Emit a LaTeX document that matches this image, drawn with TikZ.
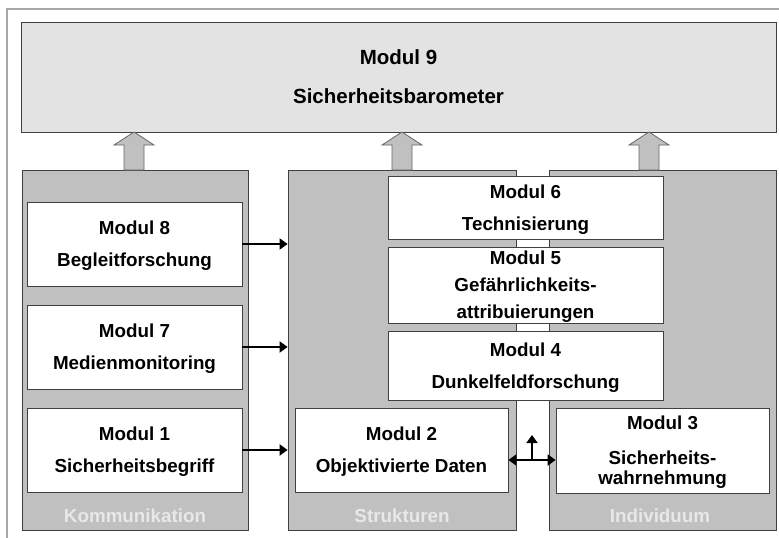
\documentclass[tikz,border=0pt]{standalone}
\usepackage{fontspec}
\setmainfont{Liberation Sans}
\usetikzlibrary{arrows.meta,positioning,calc}
\definecolor{colgray}{HTML}{C0C0C0}
\definecolor{topgray}{HTML}{E3E3E3}
\definecolor{edgegray}{HTML}{404040}
\definecolor{framegray}{HTML}{A8A8A8}
\definecolor{labgray}{HTML}{E8E8E8}
\tikzset{
  modbox/.style={draw=edgegray,fill=white,line width=0.8pt,align=center,inner sep=0pt,
    text depth=-6pt,font=\bfseries\fontsize{18.8}{32}\selectfont},
  topbox/.style={draw=edgegray,fill=topgray,line width=0.8pt,align=center,inner sep=0pt,
    font=\bfseries\fontsize{20.5}{39}\selectfont},
  colbox/.style={draw=edgegray,fill=colgray,line width=0.8pt,inner sep=0pt},
  collabel/.style={text=labgray,font=\bfseries\fontsize{18.8}{22}\selectfont},
  blockarr/.style={draw=edgegray!80,fill=colgray,line width=0.8pt},
  tip/.style={Triangle[length=8pt,width=11pt]},
  conn/.style={-{Triangle[length=8pt,width=11pt]},line width=2.4pt},
}

\begin{document}
\begin{tikzpicture}[x=1pt,y=-1pt]
  \useasboundingbox (0,0) rectangle (779,538);
  \draw[framegray,line width=2pt] (7,600) -- (7,9) -- (800,9);
  \node[topbox,minimum width=755pt,minimum height=110pt] (m9) at (398.5,77)
    {Modul 9\\Sicherheitsbarometer};
  % columns
  \node[colbox,minimum width=226pt,minimum height=360pt] (komm) at (135,350) {};
  \node[colbox,minimum width=228pt,minimum height=360pt] (strukt) at (402,350) {};
  \node[colbox,minimum width=227pt,minimum height=360pt] (indiv) at (662.5,350) {};
  \node[collabel] (kommlab) at (135,516) {Kommunikation};
  \node[collabel] (struktlab) at (402,516) {Strukturen};
  \node[collabel] (indivlab) at (660,516) {Individuum};
  \foreach \ax in {134,402,649}
    \draw[blockarr] (\ax-10,170) -- (\ax-10,145) -- (\ax-20,145) -- (\ax,132)
      -- (\ax+20,145) -- (\ax+10,145) -- (\ax+10,170) -- cycle;
  % modules
  \node[modbox,minimum width=215pt,minimum height=84pt] (m8) at (134.5,244) {Modul 8\\Begleitforschung};
  \node[modbox,minimum width=215pt,minimum height=84pt] (m7) at (134.5,347) {Modul 7\\Medienmonitoring};
  \node[modbox,minimum width=215pt,minimum height=84pt] (m1) at (134.5,450) {Modul 1\\Sicherheitsbegriff};
  \node[modbox,minimum width=275pt,minimum height=63pt] (m6) at (525.5,207.5) {Modul 6\\Technisierung};
  \node[modbox,minimum width=275pt,minimum height=76pt,text depth=-1pt,
    font=\bfseries\fontsize{18.8}{27}\selectfont] (m5) at (525.5,285)
    {Modul 5\\Gefährlichkeits-\\attribuierungen};
  \node[modbox,minimum width=275pt,minimum height=69pt,text depth=-9pt] (m4) at (525.5,365.5) {Modul 4\\Dunkelfeldforschung};
  \node[modbox,minimum width=213pt,minimum height=84pt] (m2) at (401.5,450) {Modul 2\\Objektivierte Daten};
  \node[modbox,minimum width=213pt,minimum height=85pt,text depth=-8pt,
    font=\bfseries\fontsize{18.8}{20}\selectfont] (m3) at (662.5,450.5)
    {Modul 3\\[15pt]Sicherheits-\\wahrnehmung};
  % connectors
  \draw[conn] (m8.east) -- (m8.east -| strukt.west);
  \draw[conn] (m7.east) -- (m7.east -| strukt.west);
  \draw[conn] (m1.east) -- (m1.east -| strukt.west);
  \draw[{Triangle[length=8pt,width=11pt]}-{Triangle[length=8pt,width=11pt]},line width=2.4pt]
    ([yshift=-10pt]m2.east) -- ([yshift=-10pt]m2.east -| m3.west);
  \coordinate (jn) at ($([yshift=-10pt]m2.east)!0.5!([yshift=-10pt]m2.east -| m3.west)$);
  \coordinate (jtop) at ($(jn)+(0,-25)$);
  \draw[conn] (jn) -- (jtop);
\end{tikzpicture}
\end{document}
